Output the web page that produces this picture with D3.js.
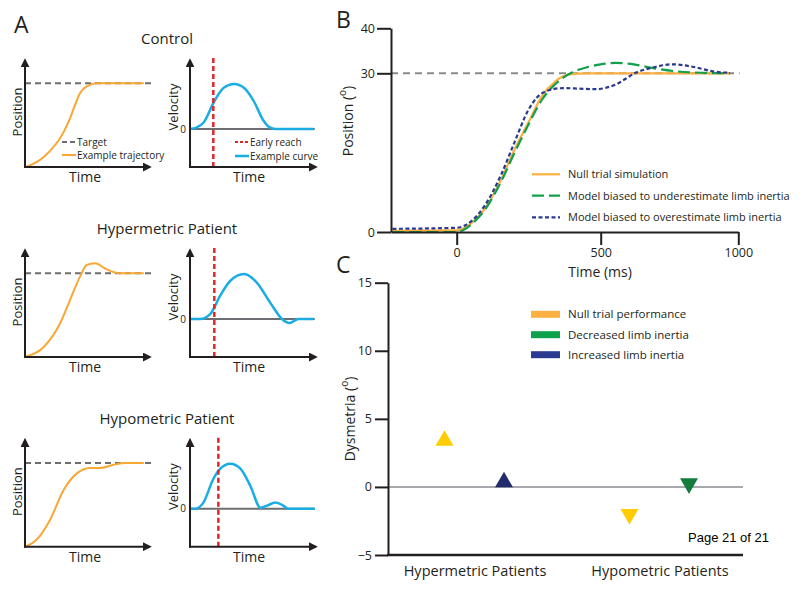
<!DOCTYPE html>
<html>
<head>
<meta charset="utf-8">
<script src="https://cdn.jsdelivr.net/npm/d3@7"></script>
<style>
  body { margin: 0; background: #fff; }
  svg { font-family: "Open Sans", sans-serif; }
  text { fill: #231f20; }
</style>
</head>
<body>
<svg id="fig" width="800" height="591"></svg>
<script>
// ---------- panel A : schematic curves (time 0-10, value in units of target / peak)
var rowNames = ["Control", "Hypermetric Patient", "Hypometric Patient"];

var ctrlPos  = [[0.1,0],[1.5,0.12],[3.1,0.42],[3.6,0.58],[3.9,0.70],[4.4,0.88],[5.0,0.97],[5.8,1],[9.5,1]];
var hyperPos = [[0,0],[1.5,0.12],[2.8,0.40],[3.6,0.68],[4.4,0.96],[4.95,1.1],[5.6,1.12],[6.5,1.05],[7.6,1.0],[9.5,1]];
var hypoPos  = [[0,0],[0.9,0.08],[2,0.32],[3.1,0.68],[4.1,0.87],[5.2,0.94],[6,0.94],[7.1,0.98],[8.1,1],[9.5,1]];

var ctrlVel  = [[0,0],[0.5,0.03],[1.1,0.15],[1.9,0.6],[2.7,0.92],[3.5,1],[4.3,0.91],[5.1,0.6],[5.8,0.2],[6.3,0.04],[6.8,0],[9.8,0]];
var hyperVel = [[0,0],[0.8,0],[1.6,0.11],[2.4,0.52],[3.2,0.85],[4.3,1],[5.3,0.81],[6.35,0.37],[7.3,0],[7.9,-0.09],[8.6,0],[9.8,0]];
var hypoVel  = [[0,0],[0.4,0],[1.05,0.13],[1.85,0.66],[2.4,0.89],[3.2,1],[4.0,0.89],[4.8,0.5],[5.6,0.02],[6.2,0.08],[6.8,0.14],[7.4,0.07],[7.8,0],[9.9,0]];

var posCurves = [ctrlPos, hyperPos, hypoPos];
var velCurves = [ctrlVel, hyperVel, hypoVel];
var earlyReach = [1.85, 1.93, 2.25];

// ---------- panel B : simulated position (deg) vs time (ms)
var nullSim = [[-225,0.2],[0,0.3],[47,1.5],[95,4.2],[154,9.9],[201,15.6],[248,20.6],[296,25.7],[343,28.5],[390,29.8],[450,30],[970,30]];
var underInertia = [[-225,0],[0,0],[20,0.3],[50,1.4],[95,4.0],[154,9.5],[201,15],[248,20.2],[296,25],[343,28],[400,30.2],[450,31.3],[500,32],[555,32.3],[620,32],[686,31.2],[780,30.4],[880,30.1],[970,30]];
var overInertia = [[-225,0.6],[0,0.8],[50,2],[95,4.8],[154,10.8],[201,17],[248,23],[280,25.5],[320,26.8],[370,27.2],[426,27.1],[485,27],[555,27.9],[627,30.1],[698,31.4],[757,32],[839,31.4],[910,30.4],[970,30.1]];
var targetB = 30;
var bTicksX = [0, 500, 1000];
var bTicksY = [0, 30, 40];
var bLegend = ["Null trial simulation", "Model biased to underestimate limb inertia", "Model biased to overestimate limb inertia"];

// ---------- panel C : dysmetria (deg)
var patientGroups = ["Hypermetric Patients", "Hypometric Patients"];
var nullPerf = [3.4, -2.0];
var modelPerf = [0.35, 0.25];
var modelKind = ["Increased limb inertia", "Decreased limb inertia"];
var markerDir = ["up", "down"];
var cTicksY = [-5, 0, 5, 10, 15];
var cLegend = ["Null trial performance", "Decreased limb inertia", "Increased limb inertia"];

var ink = "#231f20";
var svg = d3.select("#fig");

svg.append("defs").append("marker")
  .attr("id", "arrow")
  .attr("viewBox", "0 0 10 10")
  .attr("refX", 8).attr("refY", 5)
  .attr("markerWidth", 9).attr("markerHeight", 9)
  .attr("markerUnits", "userSpaceOnUse")
  .attr("orient", "auto")
  .append("path").attr("d", "M0,0 L10,5 L0,10 z").attr("fill", ink);

function lineOf(x, y) {
  return d3.line().curve(d3.curveMonotoneX)
    .x(function(d) { return x(d[0]); })
    .y(function(d) { return y(d[1]); });
}

// ===================== A =====================
svg.append("text").attr("x", 14).attr("y", 33).attr("font-size", 23).text("A");

var rowBottoms = [167, 357, 546.7];
var gA = svg.append("g");

rowNames.forEach(function(name, i) {
  var bot = rowBottoms[i];
  var px = d3.scaleLinear().domain([0, 10]).range([25, 150]);
  var py = d3.scaleLinear().domain([0, 1]).range([bot, bot - 83.7]);
  var vx = d3.scaleLinear().domain([0, 10]).range([190, 316]);
  var vy = d3.scaleLinear().domain([0, 1]).range([bot - 38, bot - 83]);
  var g = gA.append("g");

  g.append("text").attr("x", 167).attr("y", bot - 123)
    .attr("text-anchor", "middle").attr("font-size", 15).text(name);

  // position plot
  g.append("line")
    .attr("x1", px(0)).attr("x2", px(10.2)).attr("y1", py(1)).attr("y2", py(1))
    .attr("stroke", "#6d6e71").attr("stroke-width", 2).attr("stroke-dasharray", "6,4");
  g.append("path").attr("d", lineOf(px, py)(posCurves[i]))
    .attr("fill", "none").attr("stroke", "#f8a733").attr("stroke-width", 2);
  g.append("line").attr("x1", px(0)).attr("x2", px(0)).attr("y1", bot + 1).attr("y2", bot - 107)
    .attr("stroke", ink).attr("stroke-width", 2).attr("marker-end", "url(#arrow)");
  g.append("line").attr("x1", px(0) - 1).attr("x2", px(10)).attr("y1", bot).attr("y2", bot)
    .attr("stroke", ink).attr("stroke-width", 2).attr("marker-end", "url(#arrow)");
  g.append("text").attr("transform", "translate(17," + (bot - 55) + ") rotate(-90)")
    .attr("text-anchor", "middle").attr("dy", "0.35em").attr("font-size", 13).text("Position");
  g.append("text").attr("x", 85).attr("y", bot + 15)
    .attr("text-anchor", "middle").attr("font-size", 14).text("Time");

  // velocity plot
  g.append("line").attr("x1", vx(0)).attr("x2", vx(9.9)).attr("y1", vy(0)).attr("y2", vy(0))
    .attr("stroke", "#6d6e71").attr("stroke-width", 2);
  g.append("path").attr("d", lineOf(vx, vy)(velCurves[i]))
    .attr("fill", "none").attr("stroke", "#1aade4").attr("stroke-width", 2.5);
  g.append("line").attr("x1", vx(earlyReach[i])).attr("x2", vx(earlyReach[i]))
    .attr("y1", bot).attr("y2", bot - 112)
    .attr("stroke", "#e0262b").attr("stroke-width", 2.5).attr("stroke-dasharray", "5,3");
  g.append("line").attr("x1", vx(0)).attr("x2", vx(0)).attr("y1", bot + 1).attr("y2", bot - 107)
    .attr("stroke", ink).attr("stroke-width", 2).attr("marker-end", "url(#arrow)");
  g.append("line").attr("x1", vx(0) - 1).attr("x2", vx(10)).attr("y1", bot).attr("y2", bot)
    .attr("stroke", ink).attr("stroke-width", 2).attr("marker-end", "url(#arrow)");
  g.append("text").attr("x", vx(0) - 4).attr("y", vy(0)).attr("dy", "0.35em")
    .attr("text-anchor", "end").attr("font-size", 10).text("0");
  g.append("text").attr("transform", "translate(173," + (bot - 60) + ") rotate(-90)")
    .attr("text-anchor", "middle").attr("dy", "0.35em").attr("font-size", 13).text("Velocity");
  g.append("text").attr("x", 249).attr("y", bot + 15)
    .attr("text-anchor", "middle").attr("font-size", 14).text("Time");

  if (i == 0) {
    // legends of the control row
    var lg = [
      {x: 62, y: bot - 25, c: "#6d6e71", dash: "5,3", w: 2, t: "Target"},
      {x: 62, y: bot - 12, c: "#f8a733", dash: null, w: 2, t: "Example trajectory"},
      {x: 235, y: bot - 25, c: "#e0262b", dash: "3,2", w: 2, t: "Early reach"},
      {x: 235, y: bot - 11, c: "#1aade4", dash: null, w: 2.5, t: "Example curve"}
    ];
    lg.forEach(function(d) {
      g.append("line").attr("x1", d.x).attr("x2", d.x + 14).attr("y1", d.y).attr("y2", d.y)
        .attr("stroke", d.c).attr("stroke-width", d.w).attr("stroke-dasharray", d.dash);
      g.append("text").attr("x", d.x + 15).attr("y", d.y).attr("dy", "0.35em")
        .attr("font-size", 10).text(d.t);
    });
  }
});

// ===================== B =====================
var gB = svg.append("g");
var bx = d3.scaleLinear().domain([-230, 0, 500, 1000]).range([391, 456.7, 600.7, 738.3]);
var by = d3.scaleLinear().domain([0, 30, 40]).range([232, 73.3, 28.3]);

gB.append("text").attr("x", 336).attr("y", 28).attr("font-size", 23).text("B");

gB.append("line")
  .attr("x1", bx(-230)).attr("x2", bx(1005)).attr("y1", by(targetB)).attr("y2", by(targetB))
  .attr("stroke", "#8a8a8a").attr("stroke-width", 2).attr("stroke-dasharray", "7,5");

var bSeries = [
  {data: nullSim, c: "#fbb040", dash: null},
  {data: underInertia, c: "#12a04a", dash: "12,5"},
  {data: overInertia, c: "#2b3990", dash: "4,2.5"}
];
bSeries.forEach(function(s) {
  gB.append("path").attr("d", lineOf(bx, by)(s.data))
    .attr("fill", "none").attr("stroke", s.c).attr("stroke-width", 2.2)
    .attr("stroke-dasharray", s.dash);
});

function styleAxis(g, fs) {
  g.attr("font-family", null).attr("font-size", fs);
  g.select(".domain").attr("stroke", ink).attr("stroke-width", 2);
  g.selectAll(".tick line").attr("stroke", ink).attr("stroke-width", 2);
  g.selectAll(".tick text").style("fill", ink);
}

gB.append("g").attr("transform", "translate(0," + by(0) + ")")
  .call(d3.axisBottom(bx).tickValues(bTicksX).tickFormat(d3.format("d"))
    .tickSize(13).tickSizeOuter(0).tickPadding(3))
  .call(styleAxis, 12.5);
gB.append("g").attr("transform", "translate(" + bx(-230) + ",0)")
  .call(d3.axisLeft(by).tickValues(bTicksY).tickSize(14).tickSizeOuter(0).tickPadding(2))
  .call(styleAxis, 12.5);

var posLab = gB.append("text").attr("transform", "translate(348,121) rotate(-90)")
  .attr("text-anchor", "middle").attr("dy", "0.35em").attr("font-size", 14);
posLab.append("tspan").text("Position (");
posLab.append("tspan").attr("baseline-shift", "super").attr("font-size", 10).text("o");
posLab.append("tspan").text(")");

gB.append("text").attr("x", 600).attr("y", 277).attr("text-anchor", "middle")
  .attr("font-size", 14).text("Time (ms)");

var bLegY = [174.3, 195.7, 217.3];
bLegend.forEach(function(t, i) {
  gB.append("line").attr("x1", 532).attr("x2", 560).attr("y1", bLegY[i]).attr("y2", bLegY[i])
    .attr("stroke", bSeries[i].c).attr("stroke-width", 2.2).attr("stroke-dasharray", bSeries[i].dash);
  gB.append("text").attr("x", 568).attr("y", bLegY[i]).attr("dy", "0.35em")
    .attr("font-size", 11).text(t);
});

// ===================== C =====================
var gC = svg.append("g");
var cy = d3.scaleLinear().domain([-5, 15]).range([555, 282.7]);
var cx = d3.scaleBand().domain(patientGroups).range([382.5, 752.5]);
var cSub = d3.scalePoint().domain(["null", "model"]).range([62, 121.5]);
var cColors = {
  "Null trial performance": "#fbb040",
  "Decreased limb inertia": "#0da14b",
  "Increased limb inertia": "#2b3990"
};
var markerColors = {
  "null": "#ffcc00",
  "Decreased limb inertia": "#127d3c",
  "Increased limb inertia": "#232d6e"
};

gC.append("text").attr("x", 336).attr("y", 273).attr("font-size", 23).text("C");

gC.append("line").attr("x1", 388).attr("x2", 743).attr("y1", cy(0)).attr("y2", cy(0))
  .attr("stroke", "#a7a9ac").attr("stroke-width", 2);

gC.append("g").attr("transform", "translate(388,0)")
  .call(d3.axisLeft(cy).tickValues(cTicksY).tickSize(13).tickSizeOuter(0).tickPadding(3))
  .call(styleAxis, 12.5);
gC.append("line").attr("x1", 387).attr("x2", 743).attr("y1", cy(-5)).attr("y2", cy(-5))
  .attr("stroke", ink).attr("stroke-width", 2.5);
gC.append("g").attr("transform", "translate(0," + cy(-5) + ")")
  .call(d3.axisBottom(cx).tickSize(0).tickPadding(11))
  .call(function(g) {
    g.select(".domain").remove();
    g.attr("font-family", null).attr("font-size", 14.5);
    g.selectAll(".tick text").style("fill", ink);
  });

var tri = d3.symbol(d3.symbolTriangle, 140);
patientGroups.forEach(function(grp, i) {
  var rot = markerDir[i] == "down" ? " rotate(180)" : "";
  gC.append("path").attr("d", tri())
    .attr("transform", "translate(" + (cx(grp) + cSub("null")) + "," + cy(nullPerf[i]) + ")" + rot)
    .attr("fill", markerColors["null"]);
  gC.append("path").attr("d", tri())
    .attr("transform", "translate(" + (cx(grp) + cSub("model")) + "," + cy(modelPerf[i]) + ")" + rot)
    .attr("fill", markerColors[modelKind[i]]);
});

var dysLab = gC.append("text").attr("transform", "translate(350,419) rotate(-90)")
  .attr("text-anchor", "middle").attr("dy", "0.35em").attr("font-size", 14);
dysLab.append("tspan").text("Dysmetria (");
dysLab.append("tspan").attr("baseline-shift", "super").attr("font-size", 10).text("o");
dysLab.append("tspan").text(")");

var cLegY = [314.3, 334.7, 354.7];
cLegend.forEach(function(t, i) {
  gC.append("rect").attr("x", 531).attr("y", cLegY[i] - 3.5).attr("width", 29).attr("height", 7)
    .attr("fill", cColors[t]);
  gC.append("text").attr("x", 568).attr("y", cLegY[i]).attr("dy", "0.35em")
    .attr("font-size", 11.5).text(t);
});

svg.append("text").attr("x", 688).attr("y", 542)
  .attr("font-family", "'Liberation Sans', Arial, sans-serif").attr("font-size", 13)
  .style("fill", "#000").text("Page 21 of 21");
</script>
</body>
</html>
